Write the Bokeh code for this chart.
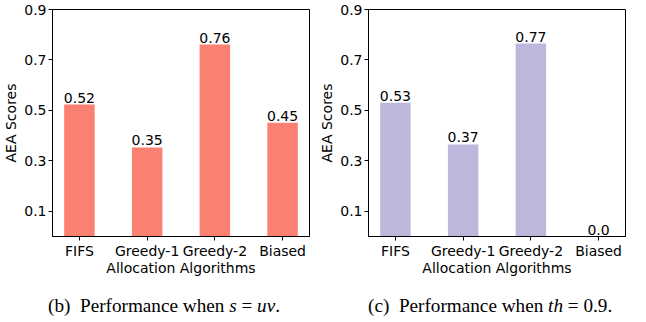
from bokeh.plotting import figure
from bokeh.models import ColumnDataSource, Range1d, FixedTicker, FactorRange, Div
from bokeh.layouts import row, column
from bokeh.embed import file_html
from bokeh.resources import INLINE
from bokeh.core.properties import value

# ---- data ----
algorithms = ["FIFS", "Greedy-1", "Greedy-2", "Biased"]
scores_uv = [0.523, 0.353, 0.761, 0.451]
labels_uv = ["0.52", "0.35", "0.76", "0.45"]
scores_th = [0.530, 0.365, 0.765, 0.0]
labels_th = ["0.53", "0.37", "0.77", "0.0"]
y_ticks = [0.1, 0.3, 0.5, 0.7, 0.9]
x_title = "Allocation Algorithms"
y_title = "AEA Scores"
caption_uv = "(b)&ensp;Performance when <i>s</i> = <i>uv</i>."
caption_th = "(c)&ensp;Performance when <i>th</i> = 0.9."

FONT = "DejaVu Sans"


def make_panel(scores, labels, color, border_left):
    src = ColumnDataSource(dict(alg=algorithms, score=scores, label=labels))
    p = figure(
        x_range=FactorRange(factors=algorithms, range_padding=-0.1025,
                            range_padding_units="absolute"),
        y_range=Range1d(0, 0.9),
        frame_width=257, frame_height=227,
        output_backend="svg", toolbar_location=None,
        min_border_left=border_left, min_border_right=4,
        min_border_top=9, min_border_bottom=38,
        background_fill_color="white", border_fill_color="white",
    )
    p.vbar(x="alg", top="score", width=0.45, color=color, line_color=None, source=src)
    p.text(x="alg", y="score", text="label", text_align="center",
           text_baseline="alphabetic", y_offset=-7, text_font=value(FONT),
           text_font_size="14px", text_color="black", source=src)
    p.xgrid.visible = False
    p.ygrid.visible = False
    p.outline_line_color = "black"
    p.outline_line_alpha = 1.0
    p.yaxis.ticker = FixedTicker(ticks=y_ticks)
    p.yaxis.axis_label = y_title
    p.xaxis.axis_label = x_title
    for ax in (p.xaxis, p.yaxis):
        ax.axis_label_text_font = FONT
        ax.axis_label_text_font_style = "normal"
        ax.axis_label_text_font_size = "14px"
        ax.axis_label_text_color = "black"
        ax.major_label_text_font = FONT
        ax.major_label_text_font_size = "14px"
        ax.major_label_text_color = "black"
        ax.major_tick_out = 4
        ax.major_tick_in = 0
        ax.major_tick_line_color = "black"
        ax.minor_tick_line_color = None
        ax.axis_line_color = "black"
        ax.major_label_standoff = 2
    p.yaxis.axis_label_standoff = 2
    p.xaxis.axis_label_standoff = -2
    return p


def make_caption(html, width, pad_left):
    style = ("font-family:'Liberation Serif';font-size:19.2px;"
             "line-height:19px;color:black;white-space:nowrap;"
             f"padding-top:13px;padding-left:{pad_left}px;")
    return Div(text=f'<div style="{style}">{html}</div>', width=width, height=32)


p1 = make_panel(scores_uv, labels_uv, "#fa8072", 51)
p2 = make_panel(scores_th, labels_th, "#bcb8dc", 55)
d1 = make_caption(caption_uv, 312, 43)
d2 = make_caption(caption_th, 316, 41)

layout = column(row(p1, p2), row(d1, d2))

open("out.html", "w").write(file_html(layout, INLINE))
